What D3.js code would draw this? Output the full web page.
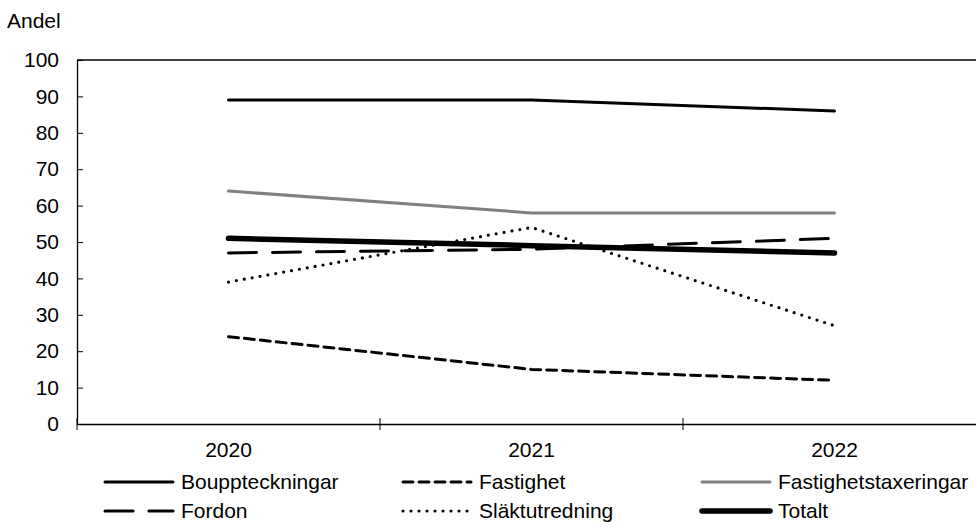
<!DOCTYPE html>
<html><head><meta charset="utf-8">
<script src="https://cdn.jsdelivr.net/npm/d3@7"></script>
<style>body{margin:0;background:#fff}svg{display:block}text{font-family:"Liberation Sans",Arial,sans-serif}</style>
</head><body><svg id="c" width="976" height="522"></svg>
<script>
const years = ["2020","2021","2022"];
const bouppteckningar = [89,89,86];
const fastighet = [24,15,12];
const fastighetstaxeringar = [64,58,58];
const fordon = [47,48,51];
const slaktutredning = [39,54,27];
const totalt = [51,49,47];
const yTicks = [0,10,20,30,40,50,60,70,80,90,100];

const series = [
  {name:"Bouppteckningar", values:bouppteckningar, color:"#000", width:3, dash:null},
  {name:"Fastighet", values:fastighet, color:"#000", width:3, dash:"10,6"},
  {name:"Fastighetstaxeringar", values:fastighetstaxeringar, color:"#808080", width:3, dash:null},
  {name:"Fordon", values:fordon, color:"#000", width:3, dash:"28,16"},
  {name:"Släktutredning", values:slaktutredning, color:"#000", width:3.2, dash:"0,8"},
  {name:"Totalt", values:totalt, color:"#000", width:5.5, dash:null}
];

const FS = 21;
const svg = d3.select("#c");
const L=77, R=986, T=60, B=424;
const x = d3.scaleBand().domain(years).range([L,R]);
const y = d3.scaleLinear().domain([0,100]).range([B,T]);

// top border
svg.append("line").attr("x1",L).attr("x2",R).attr("y1",T).attr("y2",T).attr("stroke","#000").attr("stroke-width",1.3);

// y axis
const ya = svg.append("g").attr("transform",`translate(${L},0)`)
  .call(d3.axisLeft(y).tickValues(yTicks).tickSize(0).tickPadding(18));
ya.select(".domain").attr("stroke","#000").attr("stroke-width",1.3);
ya.selectAll("text").attr("font-size",FS).attr("fill","#000");
ya.selectAll(".tick").append("line").attr("x1",0).attr("x2",6).attr("stroke","#000").attr("stroke-width",1);

// x axis
const xa = svg.append("g").attr("transform",`translate(0,${B})`)
  .call(d3.axisBottom(x).tickSize(0).tickPadding(18));
xa.select(".domain").attr("stroke","#000").attr("stroke-width",1.3);
xa.selectAll("text").attr("font-size",FS).attr("fill","#000");
xa.attr("font-family",null); ya.attr("font-family",null);
const bounds = years.map(d=>x(d));
xa.selectAll(".bt").data(bounds).enter().append("line").attr("class","bt")
  .attr("x1",d=>d).attr("x2",d=>d).attr("y1",-6).attr("y2",6).attr("stroke","#000").attr("stroke-width",1);

svg.append("text").attr("x",7).attr("y",28).attr("font-size",FS).text("Andel");

const line = d3.line().x((d,i)=>x(years[i])+x.bandwidth()/2).y(d=>y(d));
series.forEach(s=>{
  svg.append("path").attr("d",line(s.values)).attr("fill","none")
    .attr("stroke",s.color).attr("stroke-width",s.width).attr("stroke-linecap","round")
    .attr("stroke-linejoin","round").attr("stroke-dasharray",s.dash);
});

// legend
const cols=[105,403,702], rows=[482,511];
series.forEach((s,i)=>{
  const cx=cols[i%3], cy=rows[Math.floor(i/3)];
  svg.append("line").attr("x1",cx).attr("x2",cx+68).attr("y1",cy).attr("y2",cy)
    .attr("stroke",s.color).attr("stroke-width",s.width).attr("stroke-linecap","round")
    .attr("stroke-dasharray",s.dash);
  svg.append("text").attr("x",cx+76).attr("y",cy+7).attr("font-size",FS).text(s.name);
});
</script></body></html>
